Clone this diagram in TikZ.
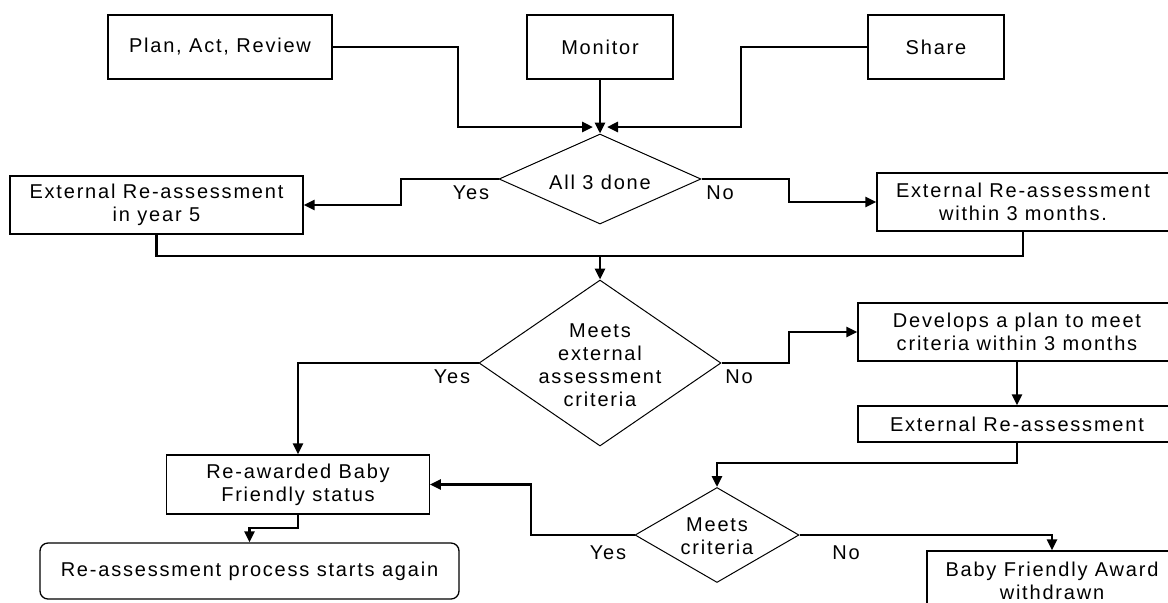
\documentclass[tikz,border=0pt]{standalone}
\usepackage{fontspec}
\setmainfont{Liberation Sans}[LetterSpace=9]
\usetikzlibrary{shapes.geometric,arrows.meta}
\begin{document}
\begin{tikzpicture}[x=0.5pt,y=-0.5pt,
  txt/.style={inner sep=0pt, align=center, font=\fontsize{10pt}{11.5pt}\selectfont},
  box/.style={txt, draw, line width=0.65pt},
  dia/.style={draw, diamond, line width=0.5pt, inner sep=0pt},
  wire/.style={line width=1.35pt},
  conn/.style={wire, -{Triangle[length=5.5pt,width=5pt]}}]
\useasboundingbox (0,0) rectangle (1168,602);
\clip (0,0) rectangle (1168,602);
% top boxes
\node[box, minimum width=112pt, minimum height=32pt] (plan) at (220,47) {Plan, Act, Review};
\node[box, minimum width=73pt, minimum height=32pt] (monitor) at (600,47) {Monitor};
\node[box, minimum width=68pt, minimum height=32pt] (share) at (936,47) {Share};
% decision 1
\node[dia, minimum width=101pt, minimum height=45pt] (d1) at (600,179) {};
\node[txt] (d1t) at (600,182) {All 3 done};
\node[box, minimum width=146.5pt, minimum height=29pt] (year5) at (156.5,205) {External Re-assessment\\in year 5};
\node[box, minimum width=146pt, minimum height=29pt] (months) at (1023,202) {External Re-assessment\\within 3 months.};
% decision 2
\node[dia, minimum width=121pt, minimum height=83pt] (d2) at (600,363) {};
\node[txt] (d2t) at (600,365) {Meets\\external\\assessment\\criteria};
\node[box, minimum width=159pt, minimum height=29pt] (dev) at (1017,332) {Develops a plan to meet\\criteria within 3 months};
\node[box, minimum width=159pt, minimum height=18pt] (ext2) at (1017,424) {External Re-assessment};
% decision 3
\node[dia, minimum width=82pt, minimum height=47.5pt] (d3) at (717,535) {};
\node[txt] (d3t) at (717,536) {Meets\\criteria};
\node[box, minimum width=131.25pt, minimum height=29.5pt] (reaw) at (298,484.5) {Re-awarded Baby\\Friendly status};
\node[box, rounded corners=4pt, minimum width=209.5pt, minimum height=28pt] (again) at (249.5,571) {Re-assessment process starts again};
\node[box, minimum width=125pt, minimum height=30pt] (wd) at (1052,581) {Baby Friendly Award\\withdrawn};
% labels
\node[txt] (y1) at (471,193) {Yes};
\node[txt] (n1) at (720,193) {No};
\node[txt] (y2) at (452,377) {Yes};
\node[txt] (n2) at (739,377) {No};
\node[txt] (y3) at (608,553) {Yes};
\node[txt] (n3) at (846,553) {No};
% connectors
\coordinate (inL) at (593,127);
\coordinate (inR) at (607,127);
\coordinate (merge) at (600,256);
\draw[conn] (plan.east) -| (458,127) -- (inL);
\draw[conn] (monitor) -- (d1);
\draw[conn] (share.west) -| (741,127) -- (inR);
\draw[conn] (d1.west) -- (401,179) |- (year5.east);
\draw[conn] (d1.east) -- (789,179) |- (months.west);
\draw[wire] (year5.south) |- (merge);
\draw[wire] (months.south) |- (merge);
\draw[conn] (merge) -- (d2.north);
\draw[conn] (d2.west) -| (reaw.north);
\draw[conn] (d2.east) -- (789,363) |- (dev.west);
\draw[conn] (dev) -- (ext2);
\draw[conn] (ext2.south) -- (1017,463) -| (d3.north);
\draw[conn] (d3.west) -- (531,535) |- (reaw.east);
\draw[conn] (d3.east) -| (wd.north);
\draw[conn] (reaw.south) -- (298,528) -| (again.north);
\end{tikzpicture}
\end{document}
